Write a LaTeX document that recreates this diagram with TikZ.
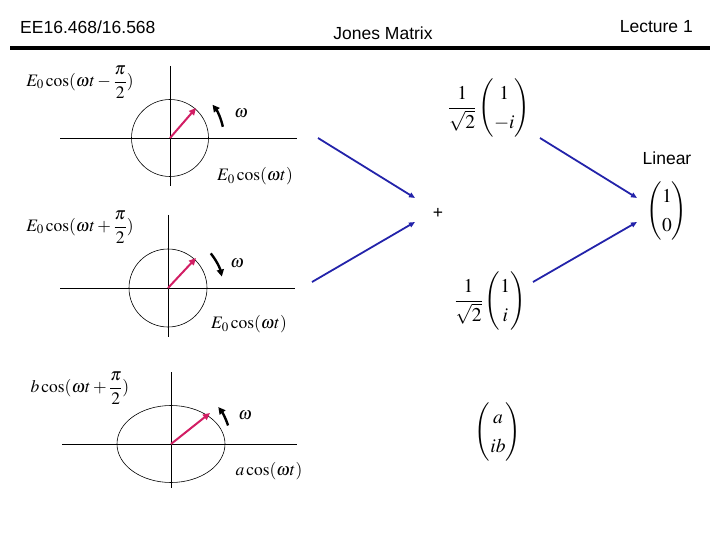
\documentclass[tikz,border=0pt]{standalone}
\usepackage{amsmath}
\usepackage{mathptmx}
\usepackage[no-math]{fontspec}
\newfontfamily\arialf{Liberation Sans}
\usetikzlibrary{arrows.meta}
\definecolor{vecred}{RGB}{210,30,100}
\definecolor{flowblue}{RGB}{35,35,170}
\begin{document}
\begin{tikzpicture}[x=1pt,y=-1pt,
 hdr/.style={font=\arialf\fontsize{17.5}{20}\selectfont, inner sep=0},
 lbl/.style={font=\fontsize{17.5}{20}\selectfont, inner sep=0},
 mat/.style={font=\fontsize{19.5}{22}\selectfont\renewcommand{\arraystretch}{1.3}\setlength{\arraycolsep}{3pt}, inner sep=0},
 axis/.style={line width=0.8pt},
 orbit/.style={line width=0.6pt},
 vec/.style={draw=vecred, line width=2pt, -{Triangle[length=7pt,width=6.5pt]}},
 rot/.style={line width=2.4pt, -{Triangle[length=7pt,width=7pt]}},
 flow/.style={draw=flowblue, line width=1.8pt, -{Triangle[length=6pt,width=5pt]}}]
\useasboundingbox (0,0) rectangle (720,540);
% header
\node[hdr, anchor=west] (course) at (20,27) {EE16.468/16.568};
\node[hdr] (title) at (383,33) {Jones Matrix};
\node[hdr, anchor=east] (lect) at (693,27) {Lecture 1};
\coordinate (barl) at (10,48);
\coordinate (barr) at (710,48);
\draw[line width=4.5pt] (barl) -- (barr);
% diagram 1
\coordinate (o1) at (170,138);
\coordinate (h1a) at (60,138); \coordinate (h1b) at (297,138);
\coordinate (v1a) at (170,66); \coordinate (v1b) at (170,186);
\draw[axis] (h1a) -- (h1b);
\draw[axis] (v1a) -- (v1b);
\draw[orbit] (o1) circle[radius=38.5];
\coordinate (t1) at (196,108);
\draw[vec] (o1) -- (t1);
\draw[rot] ([shift={(-12:54)}]o1) arc[start angle=-12,end angle=-38,radius=54];
\node[lbl] (w1) at (241,113) {$\omega$};
\node[lbl] (ly1) at (80,82) {$E_0\cos(\omega t-\dfrac{\pi}{2})$};
\node[lbl] (lx1) at (255,176) {$E_0\cos(\omega t)$};
% diagram 2
\coordinate (o2) at (168,288);
\coordinate (h2a) at (60,288); \coordinate (h2b) at (295,288);
\coordinate (v2a) at (168,215); \coordinate (v2b) at (168,337);
\draw[axis] (h2a) -- (h2b);
\draw[axis] (v2a) -- (v2b);
\draw[orbit] (o2) circle[radius=39];
\coordinate (t2) at (196,258);
\draw[vec] (o2) -- (t2);
\draw[rot] ([shift={(-39:55)}]o2) arc[start angle=-39,end angle=-12,radius=55];
\node[lbl] (w2) at (237,263) {$\omega$};
\node[lbl] (ly2) at (80,227) {$E_0\cos(\omega t+\dfrac{\pi}{2})$};
\node[lbl] (lx2) at (249,324) {$E_0\cos(\omega t)$};
% diagram 3
\coordinate (o3) at (171,444);
\coordinate (h3a) at (62,444); \coordinate (h3b) at (297,444);
\coordinate (v3a) at (171,372); \coordinate (v3b) at (171,488);
\draw[axis] (h3a) -- (h3b);
\draw[axis] (v3a) -- (v3b);
\draw[orbit] (o3) ellipse[x radius=54,y radius=38.5];
\coordinate (t3) at (210,413);
\draw[vec] (o3) -- (t3);
\draw[rot] ([shift={(-18:60)}]o3) arc[start angle=-18,end angle=-38,radius=60];
\node[lbl] (w3) at (245,415) {$\omega$};
\node[lbl] (ly3) at (80,388) {$b\cos(\omega t+\dfrac{\pi}{2})$};
\node[lbl] (lx3) at (269,471) {$a\cos(\omega t)$};
% matrices
\node[mat] (m1) at (489,108) {$\dfrac{1}{\sqrt{2}}\begin{pmatrix}1\\-i\end{pmatrix}$};
\node[mat] (m2) at (490,301) {$\dfrac{1}{\sqrt{2}}\begin{pmatrix}1\\i\end{pmatrix}$};
\node[mat] (m3) at (498,432) {$\begin{pmatrix}a\\ib\end{pmatrix}$};
\node[hdr] (lin) at (667,158) {Linear};
\node[mat] (m4) at (667,211) {$\begin{pmatrix}1\\0\end{pmatrix}$};
\node[hdr] (plus) at (438,213) {+};
% flow arrows
\coordinate (a1s) at (318,138); \coordinate (a1e) at (415,198);
\coordinate (a2s) at (312,282); \coordinate (a2e) at (415,222);
\coordinate (a3s) at (540,138); \coordinate (a3e) at (637,198);
\coordinate (a4s) at (533,282); \coordinate (a4e) at (637,222);
\draw[flow] (a1s) -- (a1e);
\draw[flow] (a2s) -- (a2e);
\draw[flow] (a3s) -- (a3e);
\draw[flow] (a4s) -- (a4e);
\end{tikzpicture}
\end{document}
